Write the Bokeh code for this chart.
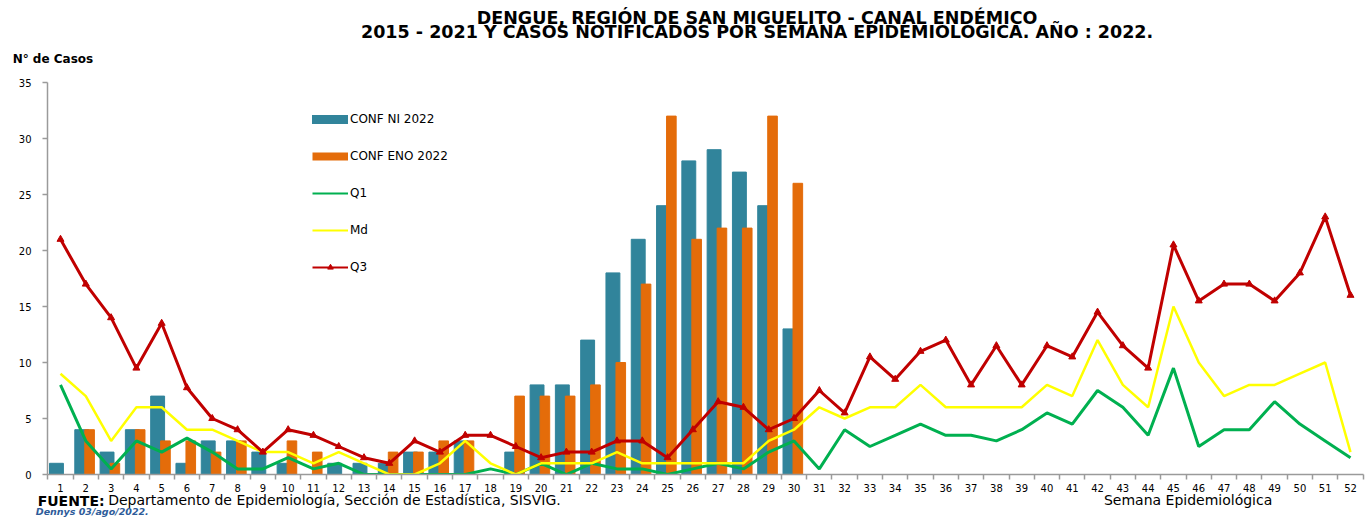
from bokeh.plotting import figure
from bokeh.models import (ColumnDataSource, Legend, LegendItem, FixedTicker, Range1d,
                          LinearAxis)
from bokeh.transform import dodge
from bokeh.embed import file_html
from bokeh.resources import INLINE

# ---------------- data ----------------
weeks = list(range(1, 53))
bar_weeks = list(range(1, 31))
conf_ni_2022 = [1, 4, 2, 4, 7, 1, 3, 3, 2, 1, 0, 1, 1, 1, 2, 2, 3, 0, 2, 8,
                8, 12, 18, 21, 24, 28, 29, 27, 24, 13]
conf_eno_2022 = [0, 4, 1, 4, 3, 3, 2, 3, 0, 3, 2, 0, 0, 2, 2, 3, 3, 0, 7, 7,
                 7, 8, 10, 17, 32, 21, 22, 22, 32, 26]
q1 = [8, 3, 0.5, 3, 2, 3.25, 2, 0.5, 0.5, 1.5,
      0.5, 1, 0, 0, 0, 0, 0, 0.5, 0, 1,
      0, 1, 0.5, 0.5, 0, 0.5, 1, 0.5, 2, 3,
      0.5, 4, 2.5, 3.5, 4.5, 3.5, 3.5, 3, 4, 5.5,
      4.5, 7.5, 6, 3.5, 9.5, 2.5, 4, 4, 6.5, 4.5, 3, 1.5]
md = [9, 7, 3, 6, 6, 4, 4, 3, 2, 2,
      1, 2, 1, 0, 0, 1, 3, 1, 0, 1,
      1, 1, 2, 1, 1, 1, 1, 1, 3, 4,
      6, 5, 6, 6, 8, 6, 6, 6, 6, 8,
      7, 12, 8, 6, 15, 10, 7, 8, 8, 9, 10, 2]
q3 = [21, 17, 14, 9.5, 13.5, 7.75, 5, 4, 2, 4,
      3.5, 2.5, 1.5, 1, 3, 2, 3.5, 3.5, 2.5, 1.5,
      2, 2, 3, 3, 1.5, 4, 6.5, 6, 4, 5,
      7.5, 5.5, 10.5, 8.5, 11, 12, 8, 11.5, 8, 11.5,
      10.5, 14.5, 11.5, 9.5, 20.5, 15.5, 17, 17, 15.5, 18, 23, 16]
y_ticks = [0, 5, 10, 15, 20, 25, 30, 35]
week_bounds = [w - 0.5 for w in weeks] + [52.5]

title_1 = "DENGUE, REGIÓN DE SAN MIGUELITO - CANAL ENDÉMICO"
title_2 = "2015 - 2021 Y CASOS NOTIFICADOS POR SEMANA EPIDEMIOLÓGICA. AÑO : 2022."
y_title = "N° de Casos"
x_title = "Semana Epidemiológica"
source_bold = "FUENTE:"
source_text = "Departamento de Epidemiología, Sección de Estadística, SISVIG."
author = "Dennys  03/ago/2022."

# ---------------- style / layout ----------------
TEAL = "#31849B"
ORANGE = "#E46C0A"
GREEN = "#00B050"
YELLOW = "#FFFF00"
RED = "#C00000"
AXIS = "#9A9A9A"
FONT = "DejaVu Sans"

# horizontal anchor positions (x data units) for the texts placed around the frame
X_TITLE = 28.54
X_YTITLE = 0.70
X_SRC_BOLD = 1.42
X_SRC_TEXT = 11.83
X_XTITLE = 45.58
X_AUTHOR = 2.32

bars = ColumnDataSource(dict(week=bar_weeks, ni=conf_ni_2022, eno=conf_eno_2022))
lines = ColumnDataSource(dict(week=weeks, q1=q1, md=md, q3=q3))

p = figure(width=1366, height=519, output_backend="svg", toolbar_location=None,
           x_range=Range1d(0.486, 52.514), y_range=Range1d(0, 35),
           min_border_left=47, min_border_right=3, min_border_top=82, min_border_bottom=45)
p.grid.visible = False
p.outline_line_color = None
p.background_fill_color = "white"
p.border_fill_color = "white"

r_ni = p.vbar(x=dodge("week", -0.16), top="ni", width=0.55, source=bars,
              fill_color=TEAL, line_color=TEAL)
r_eno = p.vbar(x=dodge("week", 0.15), top="eno", width=0.38, source=bars,
               fill_color=ORANGE, line_color=ORANGE)
r_q1 = p.line("week", "q1", source=lines, line_color=GREEN, line_width=3)
r_md = p.line("week", "md", source=lines, line_color=YELLOW, line_width=2.5)
r_q3 = p.line("week", "q3", source=lines, line_color=RED, line_width=3)
r_q3m = p.scatter("week", "q3", source=lines, marker="triangle", size=7,
                  fill_color=RED, line_color=RED)

# legend swatches (renderers whose only points lie outside the visible ranges)
off = ColumnDataSource(dict(x=[-10, -9], y=[-10, -10]))
lg_ni = p.line("x", "y", source=off, line_color=TEAL, line_width=9, line_cap="round")
lg_eno = p.line("x", "y", source=off, line_color=ORANGE, line_width=8)
lg_q1 = p.line("x", "y", source=off, line_color=GREEN, line_width=2)
lg_md = p.line("x", "y", source=off, line_color=YELLOW, line_width=2)
lg_q3 = p.line("x", "y", source=off, line_color=RED, line_width=2)
lg_q3m = p.scatter("x", "y", source=off, marker="triangle", size=6,
                   fill_color=RED, line_color=RED)

legend = Legend(items=[
    LegendItem(label="CONF NI 2022", renderers=[lg_ni]),
    LegendItem(label="CONF ENO 2022", renderers=[lg_eno]),
    LegendItem(label="Q1", renderers=[lg_q1]),
    LegendItem(label="Md", renderers=[lg_md]),
    LegendItem(label="Q3", renderers=[lg_q3, lg_q3m]),
], location=(265, 200))
legend.border_line_color = None
legend.background_fill_alpha = 0
legend.padding = 0
legend.margin = 0
legend.glyph_width = 36
legend.glyph_height = 14
legend.label_height = 14
legend.spacing = 23
legend.label_standoff = 2
legend.label_text_font = FONT
legend.label_text_font_size = "12px"
legend.label_text_color = "black"
p.add_layout(legend)

# main axes
xa = p.xaxis[0]
xa.ticker = FixedTicker(ticks=weeks, minor_ticks=week_bounds)
xa.axis_line_color = AXIS
xa.axis_line_width = 1.5
xa.major_tick_line_color = None
xa.major_tick_out = 0
xa.major_tick_in = 0
xa.minor_tick_line_color = AXIS
xa.minor_tick_line_width = 1.5
xa.minor_tick_out = 5
xa.minor_tick_in = 0
xa.major_label_standoff = 4
xa.major_label_text_font = FONT
xa.major_label_text_font_size = "10px"
xa.major_label_text_color = "black"

ya = p.yaxis[0]
ya.ticker = FixedTicker(ticks=y_ticks)
ya.axis_line_color = AXIS
ya.axis_line_width = 1.5
ya.major_tick_line_color = AXIS
ya.major_tick_line_width = 1.5
ya.major_tick_out = 5
ya.major_tick_in = 0
ya.minor_tick_line_color = None
ya.major_label_standoff = 11
ya.major_label_text_font = FONT
ya.major_label_text_font_size = "10px"
ya.major_label_text_color = "black"


# texts around the frame: invisible axes carrying one label each
def text_axis(side, ticks, labels, size, style="normal", standoff=0, color="black"):
    ax = LinearAxis(ticker=FixedTicker(ticks=ticks),
                    major_label_overrides=dict(zip(ticks, labels)))
    ax.axis_line_color = None
    ax.major_tick_line_color = None
    ax.minor_tick_line_color = None
    ax.major_tick_out = 0
    ax.major_tick_in = 0
    ax.minor_tick_out = 0
    ax.minor_tick_in = 0
    ax.major_label_standoff = standoff
    ax.major_label_text_font = FONT
    ax.major_label_text_font_size = size
    ax.major_label_text_font_style = style
    ax.major_label_text_color = color
    p.add_layout(ax, side)
    return ax


# above: nearest the frame first
text_axis("above", [X_YTITLE], [y_title], "12px", "bold", standoff=17)
text_axis("above", [X_TITLE], [title_2], "17.5px", "bold", standoff=7)
text_axis("above", [X_TITLE], [title_1], "17.5px", "bold", standoff=-9)
text_axis("above", [X_TITLE], [" "], "1px", standoff=-1)         # spacer
# below: nearest the frame first
text_axis("below", [X_SRC_TEXT, X_XTITLE], [source_text, x_title], "14px", standoff=-3)
text_axis("below", [X_SRC_BOLD], [source_bold], "14px", "bold", standoff=-18)
text_axis("below", [X_AUTHOR], [author], "9.5px", "bold italic", standoff=-6,
          color="#2E5C9A")

open("out.html", "w").write(file_html(p, INLINE))
